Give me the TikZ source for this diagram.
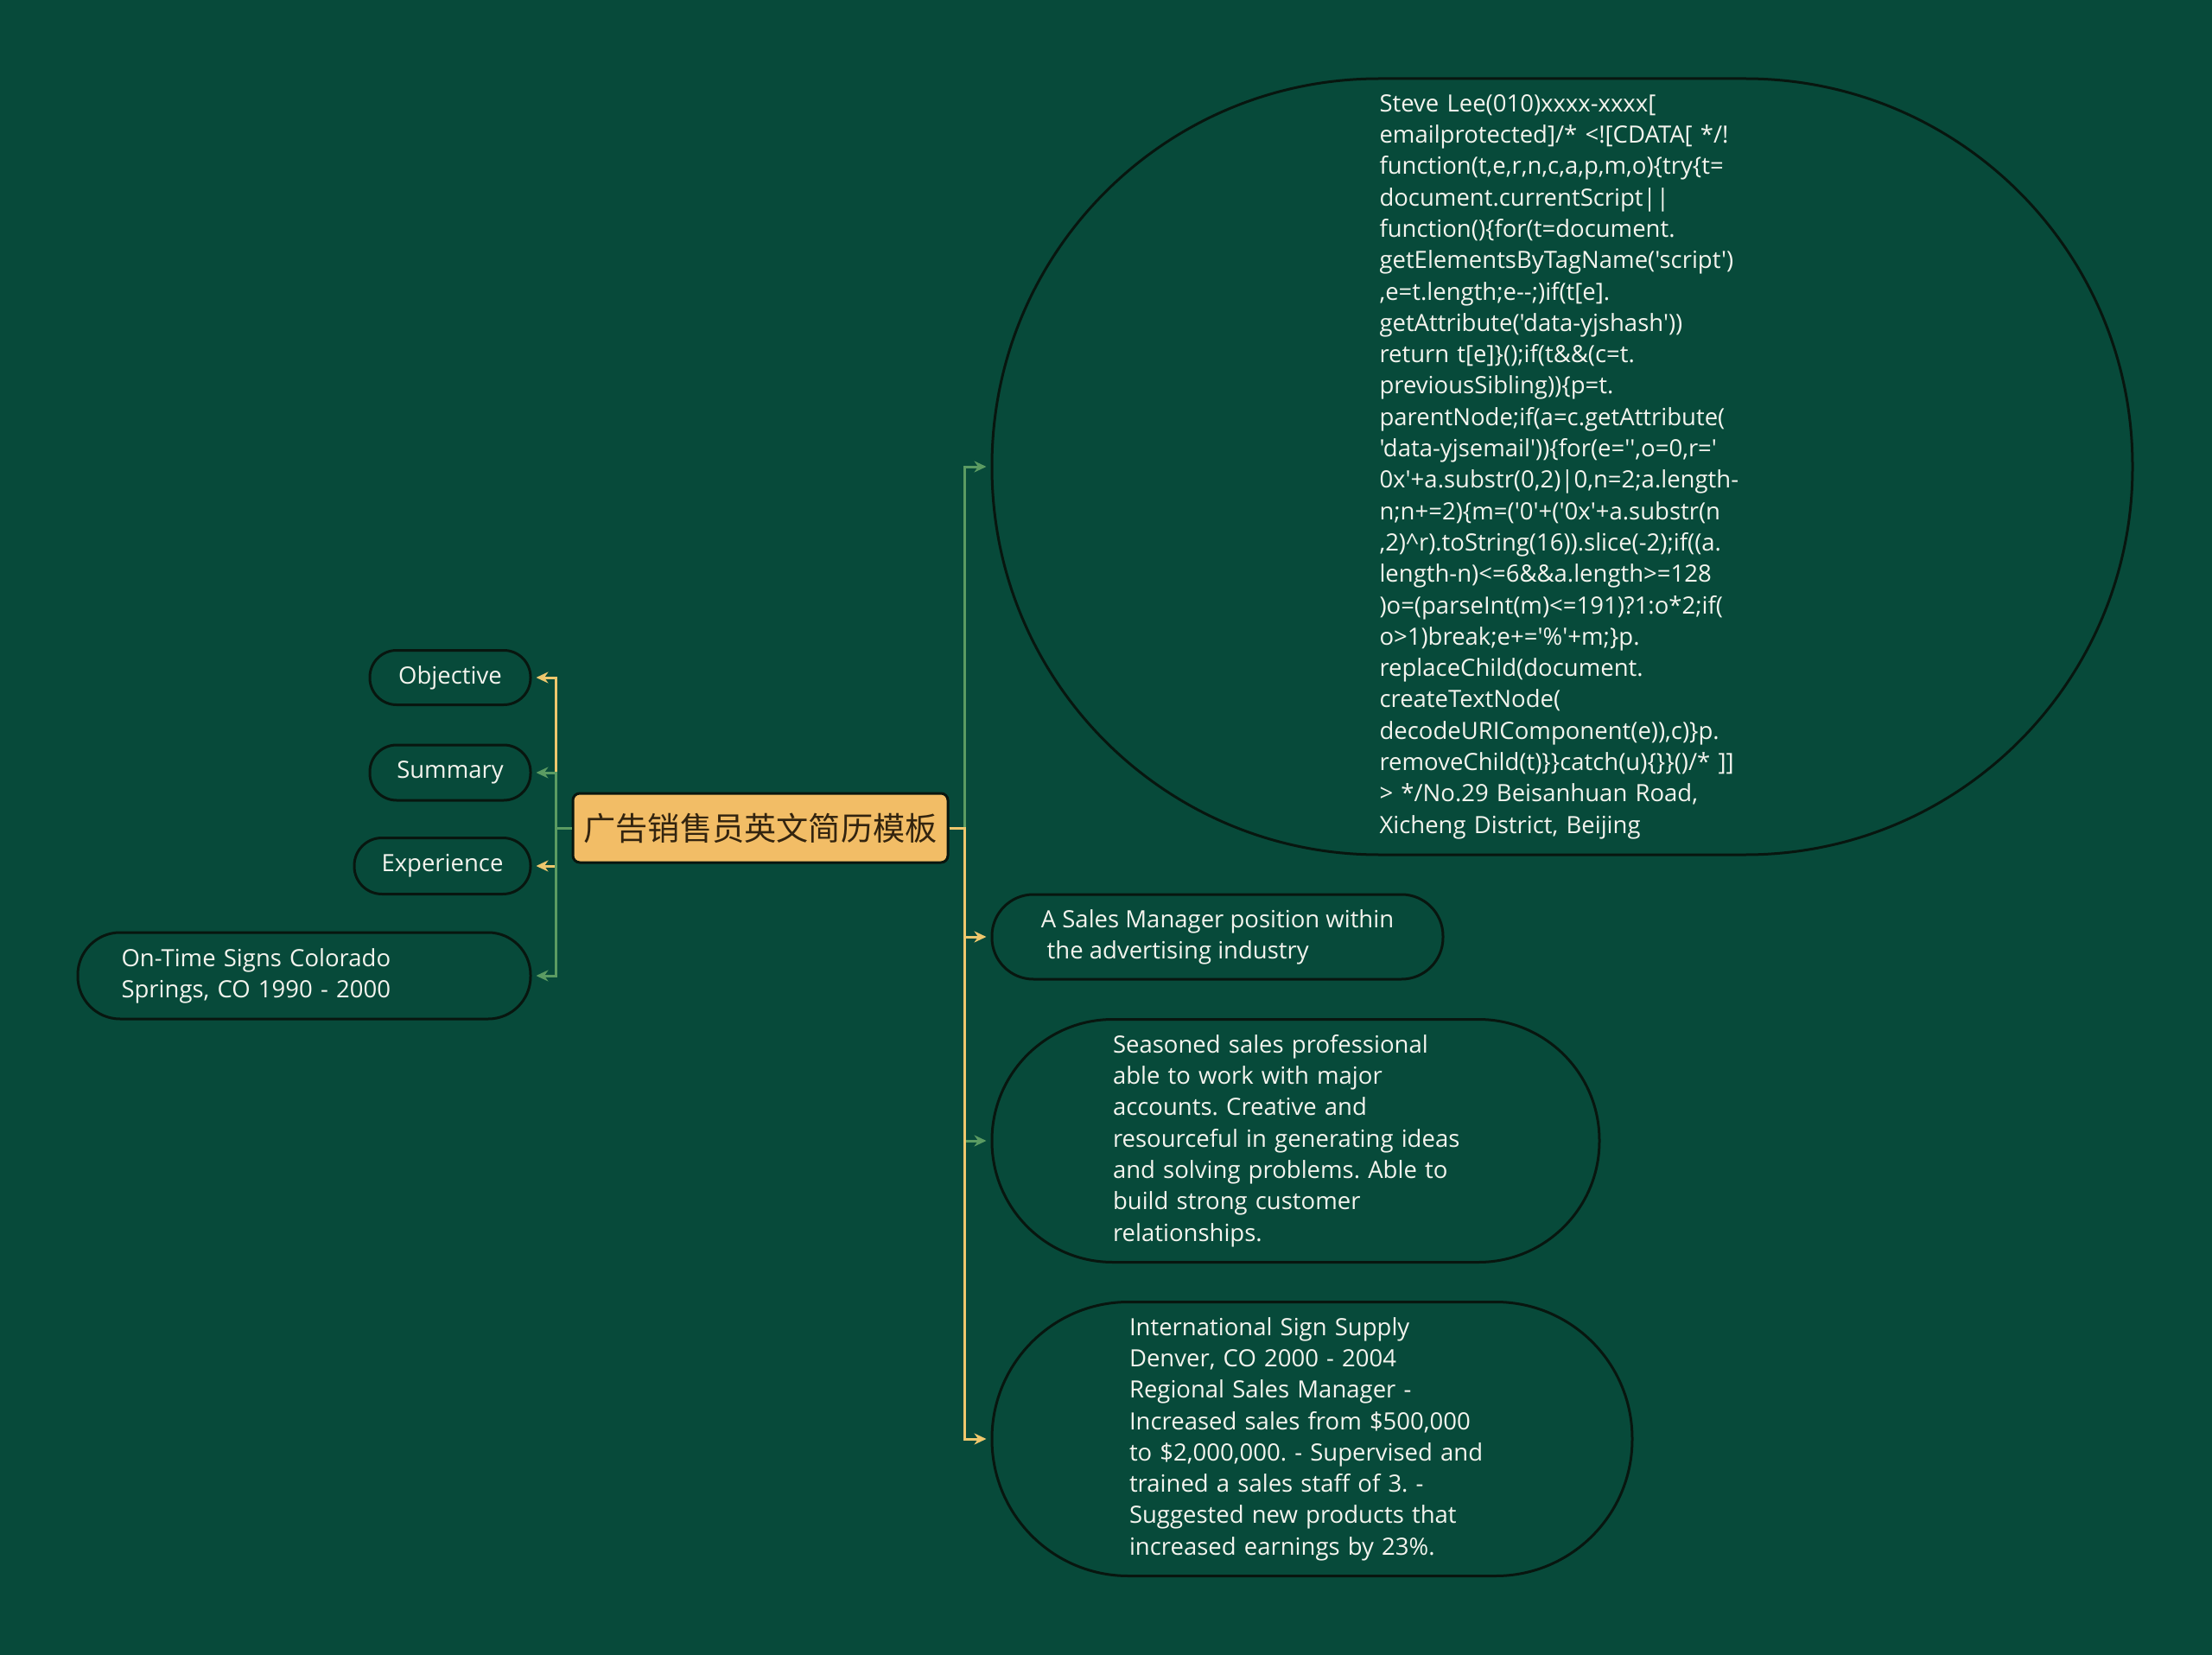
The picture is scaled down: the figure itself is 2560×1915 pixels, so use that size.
\documentclass[tikz,border=0pt]{standalone}
\usepackage{fontspec}
\setmainfont{Open Sans}[Ligatures=TeXOff]
\newfontfamily\cjkfont{Noto Sans CJK SC}
\usetikzlibrary{arrows.meta}
\definecolor{bgGreen}{HTML}{074A3A}
\definecolor{edgeBlack}{HTML}{08160F}
\definecolor{txtWhite}{HTML}{F4F4EE}
\definecolor{rootFill}{HTML}{F2BD66}
\definecolor{rootText}{HTML}{33240F}
\definecolor{lineYellow}{HTML}{EEC76D}
\definecolor{lineGreen}{HTML}{5B9B62}
\frenchspacing

\begin{document}
\begin{tikzpicture}[x=0.5pt, y=-0.5pt]
				\tikzstyle{every node}=[inner sep=0pt, align=center, text=txtWhite, font=\fontsize{13.75}{18.15}\selectfont]
				\tikzstyle{leaf}=[draw=edgeBlack, line width=1.5pt, fill=bgGreen]
				\tikzstyle{para}=[leaf, text width=211.5pt, align=left]
				\tikzstyle{yline}=[draw=lineYellow, line width=1.5pt, -{Stealth[length=7pt, width=6.5pt]}, shorten >=2.5pt]
				\tikzstyle{gline}=[yline, draw=lineGreen]
				\fill[bgGreen] (0, 0) rectangle (2560, 1915);
				\node (root) at (880, 958) [draw=edgeBlack, line width=1.5pt, fill=rootFill, rounded corners=4pt, minimum width=217pt, minimum height=40pt, text=rootText, font=\cjkfont\fontsize{18.6}{22}\selectfont] {广告销售员英文简历模板};
				\node (obj) at (521, 784) [leaf, minimum width=93pt, minimum height=31.5pt, rounded corners=15.5pt] {Objective};
				\node (sum) at (521, 894) [leaf, minimum width=93pt, minimum height=32pt, rounded corners=15.5pt] {Summary};
				\node (exp) at (512, 1002) [leaf, minimum width=102pt, minimum height=32.5pt, rounded corners=16pt] {Experience};
				\node (ontime) at (352, 1129) [para, minimum width=262pt, minimum height=50pt, rounded corners=24.5pt] {On-Time Signs Colorado\\ Springs, CO 1990 - 2000};
				\node (contact) at (1808, 540) [para, minimum width=660pt, minimum height=449pt, rounded corners=224pt] {Steve Lee(010)xxxx-xxxx[\\
emailprotected]/* <![CDATA[ */!\\
function(t,e,r,n,c,a,p,m,o)\{try\{t=\\
document.currentScript||\\
function()\{for(t=document.\\
getElementsByTagName('script')\\
,e=t.length;e--;)if(t[e].\\
getAttribute('data-yjshash'))\\
return t[e]\}();if(t\&\&(c=t.\\
previousSibling))\{p=t.\\
parentNode;if(a=c.getAttribute(\\
'data-yjsemail'))\{for(e='',o=0,r='\\
0x'+a.substr(0,2)|0,n=2;a.length-\\
n;n+=2)\{m=('0'+('0x'+a.substr(n\\
,2)\^{}r).toString(16)).slice(-2);if((a.\\
length-n)<=6\&\&a.length>=128\\
)o=(parseInt(m)<=191)?1:o*2;if(\\
o>1)break;e+='\%'+m;\}p.\\
replaceChild(document.\\
createTextNode(\\
decodeURIComponent(e)),c)\}p.\\
removeChild(t)\}\}catch(u)\{\}\}()/* ]]\\
> */No.29 Beisanhuan Road,\\
Xicheng District, Beijing};
				\node (goal) at (1409, 1084) [leaf, minimum width=261pt, minimum height=49pt, rounded corners=24pt, align=left] {A Sales Manager position within\\ \hspace{0.25em}the advertising industry};
				\node (profile) at (1499.5, 1320) [para, minimum width=351.5pt, minimum height=140.5pt, rounded corners=70pt] {Seasoned sales professional\\ able to work with major\\ accounts. Creative and\\ resourceful in generating ideas\\ and solving problems. Able to\\ build strong customer\\ relationships.};
				\node (job) at (1518.5, 1665) [para, minimum width=370.5pt, minimum height=158.5pt, rounded corners=79pt] {International Sign Supply\\ Denver, CO 2000 - 2004\\ Regional Sales Manager -\\ Increased sales from \$500,000\\ to \$2,000,000. - Supervised and\\ trained a sales staff of 3. -\\ Suggested new products that\\ increased earnings by 23\%.};
				\draw [yline] (root.west) -- ++(-18, 0) |- (obj.east);
				\draw [yline] (root.west) -- ++(-18, 0) |- (exp.east);
				\draw [gline] (root.west) -- ++(-18, 0) |- (sum.east);
				\draw [gline] (root.west) -- ++(-18, 0) |- (ontime.east);
				\draw [gline] (root.east) -- ++(18, 0) |- (contact.west);
				\draw [gline] (root.east) -- ++(18, 0) |- (profile.west);
				\draw [yline] (root.east) -- ++(18, 0) |- (goal.west);
				\draw [yline] (root.east) -- ++(18, 0) |- (job.west);
		\end{tikzpicture}
\end{document}
